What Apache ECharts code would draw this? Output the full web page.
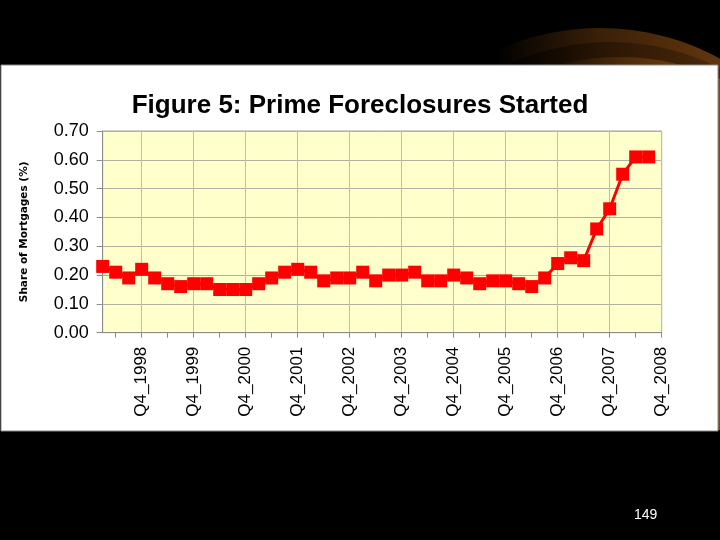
<!DOCTYPE html>
<html>
<head>
<meta charset="utf-8">
<script src="https://cdn.jsdelivr.net/npm/echarts@6/dist/echarts.min.js"></script>
<style>
html,body{margin:0;padding:0;background:#000;}
#chart{width:720px;height:540px;}
</style>
</head>
<body>
<div id="chart"></div>
<script>
var titleText = 'Figure 5: Prime Foreclosures Started';
var yAxisName = 'Share of Mortgages (%)';
var pageNumber = '149';

var categories = [
  'Q1_1998','Q2_1998','Q3_1998','Q4_1998',
  'Q1_1999','Q2_1999','Q3_1999','Q4_1999',
  'Q1_2000','Q2_2000','Q3_2000','Q4_2000',
  'Q1_2001','Q2_2001','Q3_2001','Q4_2001',
  'Q1_2002','Q2_2002','Q3_2002','Q4_2002',
  'Q1_2003','Q2_2003','Q3_2003','Q4_2003',
  'Q1_2004','Q2_2004','Q3_2004','Q4_2004',
  'Q1_2005','Q2_2005','Q3_2005','Q4_2005',
  'Q1_2006','Q2_2006','Q3_2006','Q4_2006',
  'Q1_2007','Q2_2007','Q3_2007','Q4_2007',
  'Q1_2008','Q2_2008','Q3_2008','Q4_2008'
];

// Q4_2008 has no value in the figure (the axis simply ends there)
var foreclosuresStarted = [
  0.23, 0.21, 0.19, 0.22,
  0.19, 0.17, 0.16, 0.17,
  0.17, 0.15, 0.15, 0.15,
  0.17, 0.19, 0.21, 0.22,
  0.21, 0.18, 0.19, 0.19,
  0.21, 0.18, 0.20, 0.20,
  0.21, 0.18, 0.18, 0.20,
  0.19, 0.17, 0.18, 0.18,
  0.17, 0.16, 0.19, 0.24,
  0.26, 0.25, 0.36, 0.43,
  0.55, 0.61, 0.61, null
];

var yMin = 0, yMax = 0.70, yStep = 0.10;

function everyFourth(index) { return index % 4 === 3; }
function everySecond(index) { return index % 2 === 1; }

var chart = echarts.init(document.getElementById('chart'), null, {renderer: 'canvas'});

chart.setOption({
  backgroundColor: '#000000',
  animation: false,
  title: {
    text: titleText,
    left: 'center',
    top: 88,
    textStyle: {
      fontFamily: 'Liberation Sans, Arial, sans-serif',
      fontWeight: 'bold',
      fontSize: 26,
      color: '#000000'
    }
  },
  graphic: [
    {
      type: 'ellipse', z: -20, silent: true,
      shape: {cx: 600, cy: 300, rx: 260, ry: 272},
      style: {
        fill: new echarts.graphic.LinearGradient(0, 0, 1, 0, [
          {offset: 0, color: '#000000'},
          {offset: 0.3, color: '#000000'},
          {offset: 0.5, color: '#3a2008'},
          {offset: 0.8, color: '#6e3d10'},
          {offset: 1, color: '#8a4c12'}
        ])
      }
    },
    {
      type: 'ellipse', z: -19, silent: true,
      shape: {cx: 610, cy: 310, rx: 255, ry: 268},
      style: {
        fill: new echarts.graphic.LinearGradient(0, 0, 1, 0, [
          {offset: 0, color: '#000000'},
          {offset: 0.3, color: '#000000'},
          {offset: 0.5, color: '#2c1704'},
          {offset: 0.8, color: '#55300a'},
          {offset: 1, color: '#6a3a0c'}
        ])
      }
    },
    {
      type: 'ellipse', z: -18, silent: true,
      shape: {cx: 620, cy: 322, rx: 250, ry: 265},
      style: {
        fill: new echarts.graphic.LinearGradient(0, 0, 1, 0, [
          {offset: 0, color: '#000000'},
          {offset: 0.3, color: '#000000'},
          {offset: 0.5, color: '#4a2a08'},
          {offset: 0.8, color: '#9a5812'},
          {offset: 1, color: '#b86a14'}
        ])
      }
    },
    {
      type: 'rect', z: -15, silent: true,
      shape: {x: 0, y: 430, width: 720, height: 110},
      style: {fill: '#000000'}
    },
    {
      type: 'rect', z: -10, silent: true,
      shape: {x: 1, y: 65, width: 717, height: 366},
      style: {fill: '#ffffff', stroke: '#8a8a8a', lineWidth: 1}
    },
    {
      type: 'text', z: 10, silent: true,
      left: 634, top: 508,
      style: {
        text: pageNumber,
        fill: '#ffffff',
        font: '14px "Liberation Sans", Arial, sans-serif'
      }
    }
  ],
  grid: {
    show: true,
    left: 102.7,
    right: 58.3,
    top: 131,
    bottom: 207.3,
    backgroundColor: '#ffffcc',
    borderColor: '#a8a898',
    borderWidth: 1,
    containLabel: false
  },
  xAxis: {
    type: 'category',
    data: categories,
    boundaryGap: false,
    axisLine: {show: true, lineStyle: {color: '#8c8c8c', width: 1}},
    axisTick: {show: true, interval: everySecond, length: 5, lineStyle: {color: '#8c8c8c'}},
    axisLabel: {
      interval: everyFourth,
      rotate: 90,
      margin: 14,
      fontFamily: 'Liberation Sans, Arial, sans-serif',
      fontSize: 17,
      color: '#000000'
    },
    splitLine: {show: true, interval: everyFourth, lineStyle: {color: '#c0c0a8', width: 1}}
  },
  yAxis: {
    type: 'value',
    min: yMin,
    max: yMax,
    interval: yStep,
    name: yAxisName,
    nameLocation: 'middle',
    nameRotate: 90,
    nameGap: 73,
    nameTextStyle: {
      fontFamily: 'DejaVu Sans, sans-serif',
      fontWeight: 'bold',
      fontSize: 10.5,
      color: '#000000'
    },
    axisLine: {show: true, lineStyle: {color: '#8c8c8c', width: 1}},
    axisTick: {show: true, length: 6, lineStyle: {color: '#8c8c8c'}},
    axisLabel: {
      margin: 14,
      formatter: function (v) { return v.toFixed(2); },
      fontFamily: 'Liberation Sans, Arial, sans-serif',
      fontSize: 18,
      color: '#000000'
    },
    splitLine: {show: true, lineStyle: {color: '#b0b0a0', width: 1}}
  },
  series: [{
    type: 'line',
    data: foreclosuresStarted,
    symbol: 'rect',
    symbolSize: 13,
    showSymbol: true,
    showAllSymbol: true,
    connectNulls: false,
    itemStyle: {color: '#ff0000'},
    lineStyle: {color: '#ff0000', width: 3},
    z: 5
  }]
});
</script>
</body>
</html>
